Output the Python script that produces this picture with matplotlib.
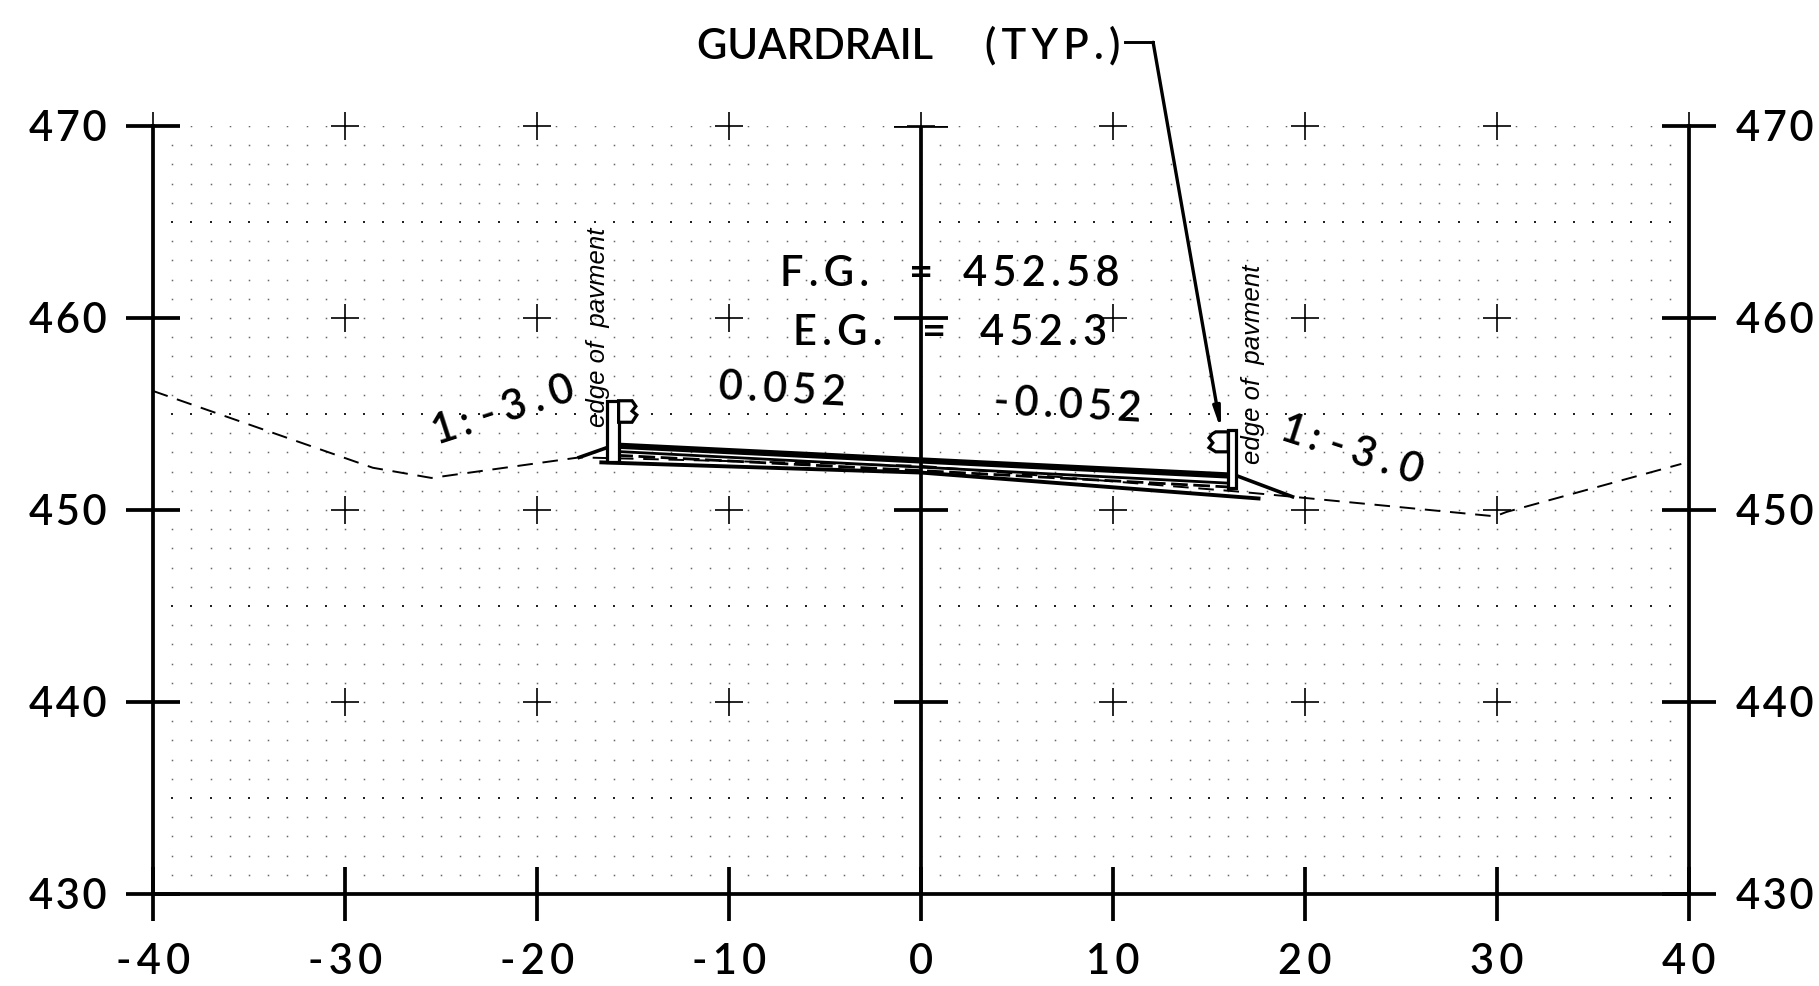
import numpy as np
import matplotlib
matplotlib.use("Agg")
import matplotlib.pyplot as plt


def sp(s, n=1):
    # CAD lettering is widely spaced
    return ('\u200a' * n).join(s)


# axis ticks
x_ticks = [-40, -30, -20, -10, 0, 10, 20, 30, 40]
y_ticks = [430, 440, 450, 460, 470]
x_labels = ['-40', '-30', '-20', '-10', '0', '10', '20', '30', '40']
y_labels = ['430', '440', '450', '460', '470']

# existing ground (dashed)
ground_x = [-40, -28.55, -25.5, -17.8, 0, 16.4, 19.35, 29.9, 30.5, 39.6]
ground_y = [456.2, 452.2, 451.67, 452.74, 452.3, 450.97, 450.69, 449.67, 449.9, 452.4]

# finished section, top thick line and the layers below
top_x = [-16.04, 0, 16.0]
top_y = [453.36, 452.58, 451.8]
slope_left_x = [-17.8, -16.04]
slope_left_y = [452.74, 453.36]
slope_right_x = [16.4, 19.35]
slope_right_y = [451.8, 450.69]
layer1_x = [-15.87, 0, 16.0]
layer1_y = [453.05, 452.23, 451.4]
layer2_x = [-15.87, 0, 16.0]
layer2_y = [452.85, 452.05, 451.2]
bottom_x = [-16.65, 0, 17.58]
bottom_y = [452.48, 451.95, 450.6]

# guardrail posts
post_left_x = [-16.35, -16.35, -15.75, -15.75, -16.35]
post_left_y = [452.48, 455.69, 455.69, 452.48, 452.48]
rail_left_x = [-15.75, -15.05, -14.85, -15.05, -14.8, -15.05, -15.75]
rail_left_y = [455.69, 455.69, 455.4, 455.15, 454.95, 454.57, 454.57]
post_right_x = [16.0, 16.0, 16.43, 16.43, 16.0]
post_right_y = [451.12, 454.15, 454.15, 451.12, 451.12]
rail_right_x = [16.0, 15.35, 15.15, 15.0, 15.2, 15.0, 15.35, 16.0]
rail_right_y = [454.07, 454.07, 453.95, 453.75, 453.5, 453.25, 453.03, 453.03]

# leader of the guardrail note
leader_x = [10.64, 12.09]
leader_y = [474.36, 474.36]
arrow_tip = (15.63, 454.15)

# dotted background
dot_x = np.arange(-39, 40)
dot_rows_light = [y for y in range(431, 471) if y % 10 != 5]
dot_rows_dark = [435, 445, 455, 465]
cross_x = [-40, -30, -20, -10, 0, 10, 20, 30, 40]
cross_y = [440, 450, 460, 470]

TXT = ['Lato', 'DejaVu Sans']
BOLD = 2.7
FS = 30
WT = 'semibold'

fig = plt.figure(figsize=(18.19, 9.86), dpi=100)
ax = fig.add_axes([153 / 1819, 92 / 986, 1536 / 1819, 768 / 986])
ax.set_xlim(-40, 40)
ax.set_ylim(430, 470)

for s in ['left', 'right', 'bottom']:
    ax.spines[s].set_linewidth(BOLD)
ax.spines['top'].set_visible(False)

ax.set_xticks(x_ticks)
ax.set_xticklabels([sp(t, 2) for t in x_labels], fontsize=FS, family=TXT, weight=WT)
ax.set_yticks(y_ticks)
ax.set_yticklabels([sp(t) for t in y_labels], fontsize=FS, family=TXT, weight=WT)
ax.tick_params(axis='x', direction='inout', length=39, width=BOLD, pad=16)
ax.tick_params(axis='y', direction='inout', length=39, width=BOLD, pad=14,
               left=True, right=True, labelleft=True, labelright=True)

# points
xx, yy = np.meshgrid(dot_x, dot_rows_light)
ax.plot(xx.ravel(), yy.ravel(), ls='none', marker='s', ms=1.1, mew=0, color='#666666', zorder=1)
xx, yy = np.meshgrid(dot_x, dot_rows_dark)
ax.plot(xx.ravel(), yy.ravel(), ls='none', marker='s', ms=1.5, mew=0, color='#222222', zorder=1)

xx, yy = np.meshgrid(cross_x, cross_y)
ax.plot(xx.ravel(), yy.ravel(), ls='none', marker='+', ms=19.5, mew=1.2, color='black',
        zorder=2, clip_on=False)

# bold centre line and its ticks
ax.axvline(0, color='black', lw=BOLD, zorder=3)
ax.hlines(y_ticks[1:], -1.4, 1.4, color='black', lw=BOLD, zorder=3)

# section
ax.plot(ground_x, ground_y, color='black', lw=1.4, dashes=(8, 5), zorder=3)
ax.plot(top_x, top_y, color='black', lw=4.5, zorder=4)
ax.plot(slope_left_x, slope_left_y, color='black', lw=2.6, zorder=4)
ax.plot(slope_right_x, slope_right_y, color='black', lw=2.6, zorder=4)
ax.plot(layer1_x, layer1_y, color='black', lw=2.0, zorder=4)
ax.plot(layer2_x, layer2_y, color='black', lw=2.0, zorder=4, dashes=(6, 2))
ax.plot(bottom_x, bottom_y, color='black', lw=2.8, zorder=4)

for px, py in [(post_left_x, post_left_y), (rail_left_x, rail_left_y),
               (post_right_x, post_right_y), (rail_right_x, rail_right_y)]:
    ax.fill(px, py, facecolor='white', edgecolor='black', lw=2.3, zorder=5)

# note and arrow
ax.plot(leader_x, leader_y, color='black', lw=2.1, clip_on=False, zorder=5)
ax.annotate('', xy=arrow_tip, xytext=(leader_x[1], leader_y[1]), annotation_clip=False, zorder=6,
            arrowprops=dict(arrowstyle='-|>,head_length=1.2,head_width=0.2', color='black',
                            lw=2.4, shrinkA=0, shrinkB=0))
ax.text(10.4, 474.2, 'GUARDRAIL     ' + sp('(TYP.)', 2), ha='right', va='center', fontsize=FS,
        family=TXT, weight=WT, clip_on=False)

ax.text(-7.36, 461.68, sp('F.G.', 2), ha='left', va='baseline', fontsize=FS, family=TXT, weight=WT, zorder=6)
ax.text(0, 461.68, '=', ha='center', va='baseline', fontsize=FS, family=TXT, weight=WT, zorder=6)
ax.text(10.33, 461.68, sp('452.58', 2), ha='right', va='baseline', fontsize=FS, family=TXT, weight=WT, zorder=6)
ax.text(-6.67, 458.6, sp('E.G.', 2), ha='left', va='baseline', fontsize=FS, family=TXT, weight=WT, zorder=6)
ax.text(0.7, 458.6, '=', ha='center', va='baseline', fontsize=FS, family=TXT, weight=WT, zorder=6)
ax.text(9.68, 458.6, sp('452.3', 2), ha='right', va='baseline', fontsize=FS, family=TXT, weight=WT, zorder=6)

ax.text(-10.57, 455.8, sp('0.052', 2), ha='left', va='baseline', rotation=-3, rotation_mode='anchor',
        fontsize=FS, family=TXT, weight=WT, zorder=6)
ax.text(3.77, 455.0, sp('-0.052', 2), ha='left', va='baseline', rotation=-3, rotation_mode='anchor',
        fontsize=FS, family=TXT, weight=WT, zorder=6)
ax.text(-25.2, 453.4, sp('1:', 2) + ' ' + sp('-3.0', 3), ha='left', va='baseline', rotation=18,
        rotation_mode='anchor', fontsize=FS, family=TXT, weight=WT, zorder=6)
ax.text(18.6, 453.7, sp('1:', 2) + ' ' + sp('-3.0', 3), ha='left', va='baseline', rotation=-18,
        rotation_mode='anchor', fontsize=FS, family=TXT, weight=WT, zorder=6)

ax.text(-16.45, 454.3, 'edge of  pavment', ha='left', va='baseline', rotation=90, rotation_mode='anchor',
        fontsize=18.5, style='italic', family='Liberation Sans', zorder=6)
ax.text(17.68, 452.4, 'edge of  pavment', ha='left', va='baseline', rotation=90, rotation_mode='anchor',
        fontsize=18.5, style='italic', family='Liberation Sans', zorder=6)

fig.savefig('out.png', dpi=100)
